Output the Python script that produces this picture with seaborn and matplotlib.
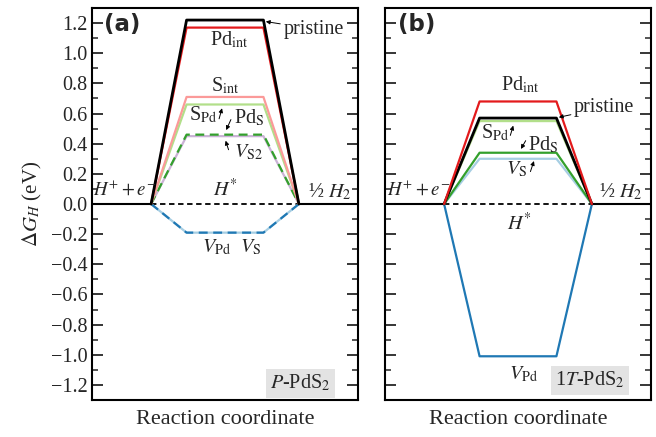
import matplotlib
matplotlib.use("Agg")
import matplotlib.pyplot as plt
import seaborn as sns
import numpy as np

# ---------------- data ----------------
# panel (a): P-PdS2
a_states = ["V_S", "V_Pd", "V_S2", "Pd_S", "S_Pd", "S_int", "Pd_int", "pristine"]
a_values = [-0.19, -0.19, 0.45, 0.46, 0.66, 0.71, 1.17, 1.22]
# panel (b): 1T-PdS2
b_states = ["V_Pd", "V_S", "Pd_S", "S_Pd", "pristine", "Pd_int"]
b_values = [-1.01, 0.30, 0.34, 0.55, 0.57, 0.68]

colors = {"pristine": "black", "Pd_int": "#e31a1c", "S_int": "#fb9a99",
          "S_Pd": "#b2df8a", "Pd_S": "#33a02c", "V_S2": "#cab2d6",
          "V_S": "#a6cee3", "V_Pd": "#1f78b4"}
a_dashed = {"Pd_S", "V_Pd"}
b_dashed = set()

# reaction-coordinate layout (positions of the steps)
X_PATH = [1.0, 1.6, 2.9, 3.5]
XMAX = 4.5

sns.set_style("ticks")
plt.rcParams["font.family"] = ["Liberation Serif", "DejaVu Serif"]
plt.rcParams["mathtext.fontset"] = "stix"
plt.rcParams["axes.linewidth"] = 1.5

fig = plt.figure(figsize=(6.56, 4.37), dpi=100)
W = 266 / 656
H = 392 / 437
B = 37 / 437
axA = fig.add_axes([92 / 656, B, W, H])
axB = fig.add_axes([385 / 656, B, W, H])


def draw_panel(ax, states, values, dashed):
    # zero baseline
    sns.lineplot(x=[0, X_PATH[0]], y=[0, 0], color="black", lw=1.5, ax=ax,
                 estimator=None, sort=False)
    sns.lineplot(x=[X_PATH[-1], XMAX], y=[0, 0], color="black", lw=1.5, ax=ax,
                 estimator=None, sort=False)
    sns.lineplot(x=[X_PATH[0], X_PATH[-1]], y=[0, 0], color="black", lw=1.3, ax=ax,
                 estimator=None, sort=False)
    ax.lines[-1].set_dashes((3, 2))
    for s, v in zip(states, values):
        lw = 2.0 if s == "pristine" else 1.6
        sns.lineplot(x=X_PATH, y=[0, v, v, 0], color=colors[s], lw=lw, ax=ax,
                     estimator=None, sort=False)
        if s in dashed:
            ax.lines[-1].set_dashes((4, 2.5))
    ax.set_xlim(0, XMAX)
    ax.set_ylim(-1.3, 1.3)
    ax.set_xticks([])
    ax.set_yticks(np.round(np.arange(-1.2, 1.21, 0.2), 1))
    ax.set_yticks(np.round(np.arange(-1.3, 1.31, 0.1), 1), minor=True)
    ax.tick_params(axis="y", which="major", direction="in", length=8, width=1.3,
                   left=True, right=True, labelsize=14.5, pad=3)
    ax.tick_params(axis="y", which="minor", direction="in", length=4.5, width=1.1,
                   left=True, right=True)
    ax.set_xlabel("Reaction coordinate", fontsize=16, labelpad=7)
    ax.set_ylabel("")
    for sp in ax.spines.values():
        sp.set_visible(True)
        sp.set_linewidth(1.5)
        sp.set_color("black")


draw_panel(axA, a_states, a_values, a_dashed)
draw_panel(axB, b_states, b_values, b_dashed)

axA.yaxis.set_major_formatter(matplotlib.ticker.FuncFormatter(
    lambda v, p: ("%.1f" % v).replace("-", "\u2212") if abs(v) > 1e-9 else "0.0"))
axB.set_yticklabels([])
axA.set_ylabel(r"$\Delta G_H$ (eV)", fontsize=15, labelpad=5)

arrow = dict(arrowstyle="-|>", lw=0.7, color="black", mutation_scale=6,
             shrinkA=0, shrinkB=0)
fs = 14.5

# ---- panel (a) labels ----
axA.text(0.2, 1.19, "(a)", fontsize=16.5, fontweight="bold",
         family=["DejaVu Sans"], va="center", ha="left")
axA.annotate("pristine", xy=(2.94, 1.21), xytext=(3.24, 1.16), fontsize=fs,
             va="center", ha="left", arrowprops=arrow)
axA.text(2.33, 1.09, r"Pd$_{\rm int}$", fontsize=fs, ha="center", va="center")
axA.text(2.25, 0.78, r"S$_{\rm int}$", fontsize=fs, ha="center", va="center")
axA.text(1.88, 0.59, r"S$_{\rm Pd}$", fontsize=fs, ha="center", va="center")
axA.annotate("", xy=(2.2, 0.635), xytext=(2.15, 0.565), arrowprops=arrow)
axA.text(2.66, 0.57, r"Pd$_{\rm S}$", fontsize=fs, ha="center", va="center")
axA.annotate("", xy=(2.27, 0.49), xytext=(2.35, 0.56), arrowprops=arrow)
axA.text(2.64, 0.34, r"$V_{\rm S2}$", fontsize=fs, ha="center", va="center")
axA.annotate("", xy=(2.26, 0.42), xytext=(2.31, 0.36), arrowprops=arrow)
axA.text(0.02, 0.09, r"$H^{+} + e^{-}$", fontsize=13.5, ha="left", va="center")
axA.text(2.25, 0.09, r"$H^{*}$", fontsize=fs, ha="center", va="center")
axA.text(4.02, 0.08, r"½ $H_2$", fontsize=fs, ha="center", va="center")
axA.text(2.10, -0.29, r"$V_{\rm Pd}$", fontsize=fs, ha="center", va="center")
axA.text(2.69, -0.29, r"$V_{\rm S}$", fontsize=fs, ha="center", va="center")
axA.text(3.52, -1.19, r"$P$-PdS$_2$", fontsize=fs, ha="center", va="center",
         bbox=dict(facecolor="#e3e3e3", edgecolor="none", pad=3))

# ---- panel (b) labels ----
axB.text(0.22, 1.19, "(b)", fontsize=16.5, fontweight="bold",
         family=["DejaVu Sans"], va="center", ha="left")
axB.text(2.28, 0.79, r"Pd$_{\rm int}$", fontsize=fs, ha="center", va="center")
axB.annotate("pristine", xy=(2.94, 0.575), xytext=(3.2, 0.64), fontsize=fs,
             va="center", ha="left", arrowprops=arrow)
axB.text(1.86, 0.47, r"S$_{\rm Pd}$", fontsize=fs, ha="center", va="center")
axB.annotate("", xy=(2.17, 0.52), xytext=(2.12, 0.455), arrowprops=arrow)
axB.text(2.68, 0.39, r"Pd$_{\rm S}$", fontsize=fs, ha="center", va="center")
axB.annotate("", xy=(2.30, 0.365), xytext=(2.38, 0.42), arrowprops=arrow)
axB.text(2.22, 0.23, r"$V_{\rm S}$", fontsize=fs, ha="center", va="center")
axB.annotate("", xy=(2.52, 0.285), xytext=(2.46, 0.215), arrowprops=arrow)
axB.text(0.03, 0.09, r"$H^{+} + e^{-}$", fontsize=13.5, ha="left", va="center")
axB.text(2.28, -0.13, r"$H^{*}$", fontsize=fs, ha="center", va="center")
axB.text(3.98, 0.08, r"½ $H_2$", fontsize=fs, ha="center", va="center")
axB.text(2.35, -1.13, r"$V_{\rm Pd}$", fontsize=fs, ha="center", va="center")
axB.text(3.47, -1.17, r"1$T$-PdS$_2$", fontsize=fs, ha="center", va="center",
         bbox=dict(facecolor="#e3e3e3", edgecolor="none", pad=3))

fig.savefig("out.png", dpi=100)
